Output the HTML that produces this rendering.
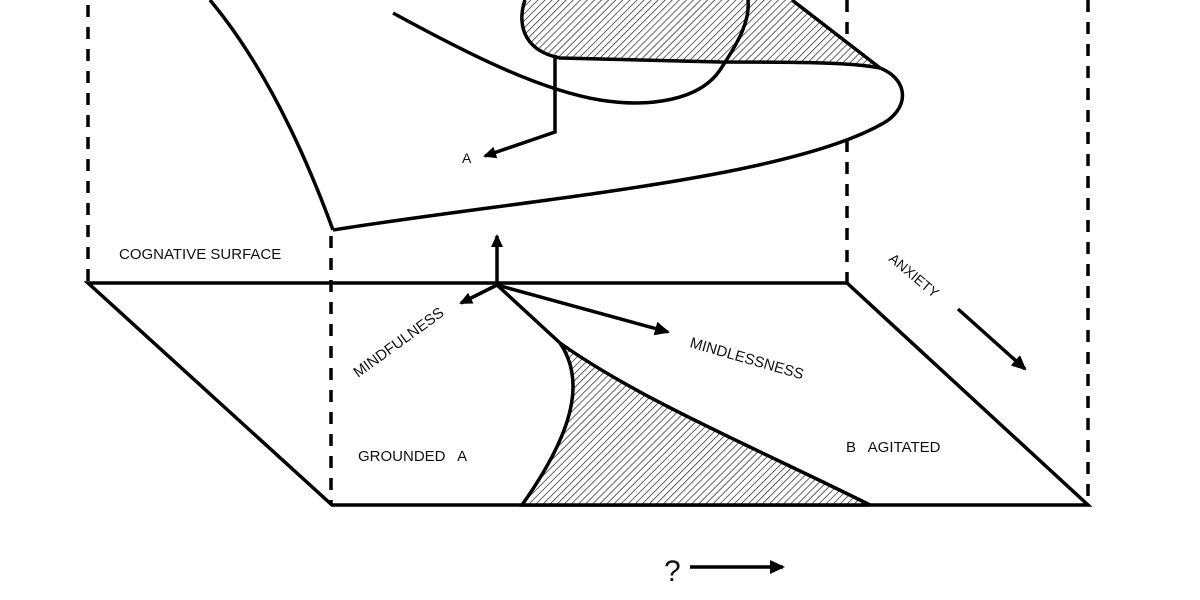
<!DOCTYPE html>
<html><head><meta charset="utf-8"><style>
html,body{margin:0;padding:0;background:#fff;}
svg{display:block;}
text{font-family:"Liberation Sans",sans-serif;fill:#111;}
</style></head><body>
<svg width="1200" height="600" viewBox="0 0 1200 600" xmlns="http://www.w3.org/2000/svg">
<defs>
<pattern id="h" patternUnits="userSpaceOnUse" width="5" height="5" patternTransform="rotate(45)">
<rect width="5" height="5" fill="#fff"/><line x1="0" y1="0" x2="0" y2="5" stroke="#222" stroke-width="1.4"/>
</pattern>
<marker id="ar" markerWidth="13" markerHeight="12" refX="11" refY="6" orient="auto" markerUnits="userSpaceOnUse">
<path d="M0,0 L13,6 L0,12 Z" fill="#000"/></marker>
<marker id="ar2" markerWidth="15" markerHeight="14" refX="13" refY="7" orient="auto" markerUnits="userSpaceOnUse">
<path d="M0,0 L15,7 L0,14 Z" fill="#000"/></marker>
</defs>
<g stroke="#000" fill="none" stroke-width="3.5">
<g stroke-dasharray="12,10">
<line x1="88" y1="5" x2="88" y2="282"/>
<line x1="331" y1="236" x2="331" y2="505"/>
<line x1="847" y1="0" x2="847" y2="42"/>
<line x1="847" y1="140" x2="847" y2="282"/>
<line x1="1088" y1="0" x2="1088" y2="505"/>
</g>
<line x1="555" y1="0" x2="555" y2="55" stroke-dasharray="4,3"/>
<path d="M525,0 C518,20 520,50 560,58 L720,62 C790,62 850,62 880,68 L792,0 Z" fill="url(#h)" stroke="none"/>
<path d="M525,0 C518,20 520,50 560,58 L720,62 C790,62 850,62 880,68"/>
<line x1="880" y1="68" x2="792" y2="0"/>
<path d="M880,68 C910,80 910,110 880,125 C780,180 520,200 333,230"/>
<path d="M210,0 C260,60 300,140 333,230"/>
<path d="M393,13 C470,55 540,90 600,100 C650,108 700,100 720,70 C740,40 750,20 748,0"/>
<path d="M555,55 L555,132 L485,156" marker-end="url(#ar)"/>
<path d="M88,283 L847,283 L1088,505 L332,505 Z"/>
<path d="M560,343 C585,380 575,430 522,505 L870,505 C760,450 640,400 560,343 Z" fill="url(#h)"/>
<line x1="497" y1="285" x2="560" y2="343"/>
<line x1="497" y1="285" x2="497" y2="236" marker-end="url(#ar)"/>
<line x1="497" y1="285" x2="461" y2="303" marker-end="url(#ar)"/>
<line x1="497" y1="285" x2="668" y2="332" marker-end="url(#ar2)"/>
<line x1="958" y1="309" x2="1025" y2="369" marker-end="url(#ar2)"/>
<line x1="690" y1="567" x2="783" y2="567" marker-end="url(#ar2)"/>
</g>
<text x="119" y="259" font-size="15">COGNATIVE SURFACE</text>
<text x="462" y="163" font-size="14">A</text>
<text x="358" y="461" font-size="15">GROUNDED &#160; A</text>
<text x="846" y="452" font-size="15">B &#160; AGITATED</text>
<text transform="translate(358,378) rotate(-36)" font-size="15">MINDFULNESS</text>
<text transform="translate(689,347) rotate(16)" font-size="15">MINDLESSNESS</text>
<text transform="translate(888,260) rotate(40)" font-size="14">ANXIETY</text>
<text x="664" y="581" font-size="30">?</text>
</svg>
</body></html>
